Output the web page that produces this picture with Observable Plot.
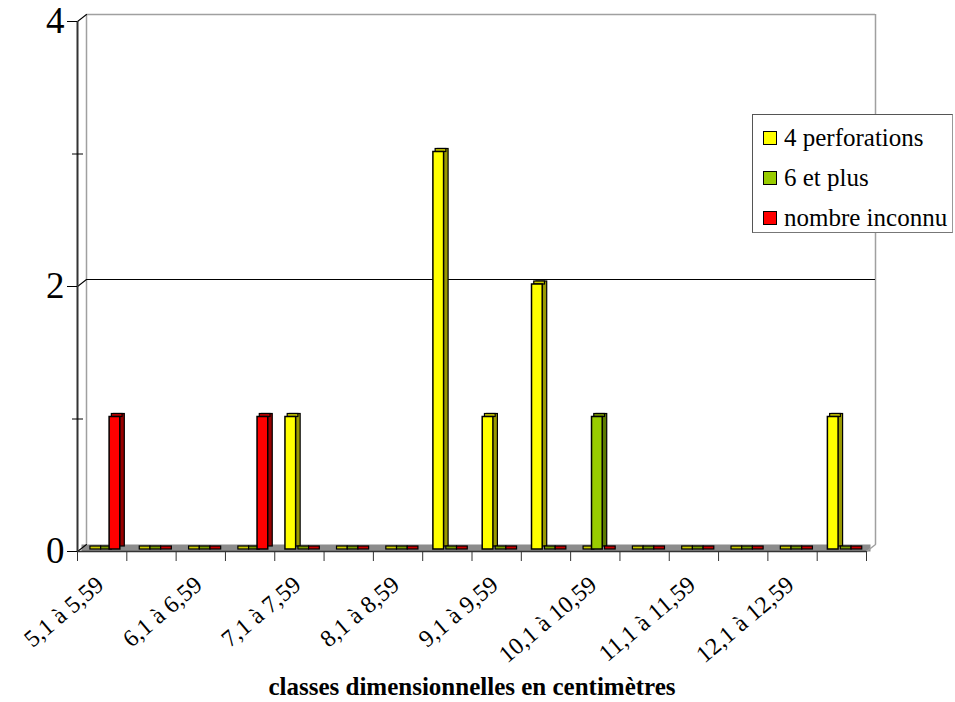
<!DOCTYPE html>
<html><head><meta charset="utf-8">
<script src="https://cdn.jsdelivr.net/npm/d3@7"></script>
<script src="https://cdn.jsdelivr.net/npm/@observablehq/plot@0.6"></script>
<style>
body{margin:0;background:#fff;font-family:'Liberation Serif','DejaVu Serif',serif;}
#wrap{position:relative;width:955px;height:702px;}
#legend{position:absolute;left:752px;top:114px;width:201px;height:119px;border:1px solid #555;border-right-color:#999;border-bottom-color:#777;background:#fff;box-sizing:border-box;font-family:'Liberation Serif','DejaVu Serif',serif;}
.row{position:absolute;left:10px;height:30px;display:flex;align-items:center;font-size:25px;color:#000;white-space:nowrap;}
.sw{width:12px;height:12px;border:1.5px solid #000;margin-right:7px;}
svg text{font-family:'Liberation Serif','DejaVu Serif',serif !important;}
</style></head><body>
<div id="wrap"><div id="chart"></div><div id="legend"></div></div>
<script>
const categories = ["5,1 à 5,59","5,6 à 6,09","6,1 à 6,59","6,6 à 7,09","7,1 à 7,59","7,6 à 8,09","8,1 à 8,59","8,6 à 9,09","9,1 à 9,59","9,6 à 10,09","10,1 à 10,59","10,6 à 11,09","11,1 à 11,59","11,6 à 12,09","12,1 à 12,59","12,6 à 13,09"];
const series = ["4 perforations","6 et plus","nombre inconnu"];
const perforations4 = [0,0,0,0,1,0,0,3,1,2,0,0,0,0,0,1];
const sixEtPlus     = [0,0,0,0,0,0,0,0,0,0,1,0,0,0,0,0];
const nombreInconnu = [1,0,0,1,0,0,0,0,0,0,0,0,0,0,0,0];
const yTicksLabeled = [0,2,4];
const yTicksMinor = [1,3];
const xTitle = "classes dimensionnelles en centimètres";

const valuesBySeries = [perforations4, sixEtPlus, nombreInconnu];
const frontColors = ["#ffff00","#99cc00","#ff0000"];
const sideColors  = ["#999900","#5c7a00","#990000"];
const topColors   = ["#c8c800","#7a9900","#c80000"];

const rows = series.flatMap((s, si) => categories.map((c, ci) => ({category: c, index: ci, series: s, si, value: valuesBySeries[si][ci]})));

const BAR0 = 0.217, BARW = 0.217;
const bx1 = d => d.index + BAR0 + d.si * BARW;
const bx2 = d => d.index + BAR0 + (d.si + 1) * BARW;
const line = {draw(context, l) { context.moveTo(0, 0); context.lineTo(0, -l); }};
const DX = 9, DY = -7;
const FONT = "'Liberation Serif','DejaVu Serif',serif";

const marks = [];
marks.push(Plot.ruleY([0], {dx: DX/2, dy: DY/2, strokeWidth: 7, stroke: "#8c8c8c"}));
marks.push(Plot.ruleX([0, categories.length], {dx: DX, dy: DY, stroke: "#a0a0a0", strokeWidth: 1.5}));
marks.push(Plot.ruleY([4], {dx: DX, dy: DY, stroke: "#a0a0a0", strokeWidth: 1.5}));
marks.push(Plot.ruleY([2], {dx: DX, dy: DY, stroke: "#000", strokeWidth: 1}));
marks.push(Plot.vector(yTicksLabeled, {x: 0, y: d => d, length: Math.hypot(DX, DY), rotate: Math.atan2(DX, -DY) * 180 / Math.PI, anchor: "start", shape: line, stroke: "#000", strokeWidth: 1}));
marks.push(Plot.vector([categories.length], {x: d => d, y: 0, length: Math.hypot(DX, DY), rotate: Math.atan2(DX, -DY) * 180 / Math.PI, anchor: "start", shape: line, stroke: "#a0a0a0", strokeWidth: 1.5}));
series.forEach((s, si) => {
  marks.push(Plot.rectY(rows.filter(d => d.si === si), {x1: bx1, x2: bx2, y1: 0, y2: "value", dx: 4.5, dy: -5, fill: sideColors[si], stroke: "#000", strokeWidth: 1.2}));
});
series.forEach((s, si) => {
  marks.push(Plot.rect(rows.filter(d => d.si === si), {x1: bx1, x2: bx2, y1: "value", y2: "value", insetTop: -3, dx: 2.25, dy: -2, fill: topColors[si], stroke: "#000", strokeWidth: 1.2}));
});
series.forEach((s, si) => {
  marks.push(Plot.rectY(rows.filter(d => d.si === si), {x1: bx1, x2: bx2, y1: 0, y2: "value", dy: -2, fill: frontColors[si], stroke: "#000", strokeWidth: 1.5}));
});
marks.push(Plot.ruleX([0], {stroke: "#333", strokeWidth: 2}));
marks.push(Plot.ruleY([0], {stroke: "#333", strokeWidth: 1.5}));
marks.push(Plot.axisY({ticks: yTicksLabeled, tickFormat: d => String(d), tickSize: 10, tickPadding: 3, fontSize: 37, label: null, stroke: "#000", fill: "#000"}));
marks.push(Plot.axisY({ticks: yTicksMinor, tickSize: 11, dx: 6, fill: "none", label: null, stroke: "#000"}));
marks.push(Plot.axisX({ticks: d3.range(0, categories.length + 1), tickSize: 10, fill: "none", label: null, stroke: "#333"}));
marks.push(Plot.axisX({ticks: categories.map((c, i) => i).filter(i => i % 2 === 0).map(i => i + 0.5), tickFormat: d => categories[Math.floor(d)], tickSize: 0, tickPadding: 30, dx: -2, tickRotate: -40, textAnchor: "end", fontSize: 24, label: null, fill: "#000"}));
marks.push(Plot.text([xTitle], {frameAnchor: "bottom", dy: 143, lineAnchor: "bottom", fontSize: 25, fontWeight: "bold", fill: "#000"}));

const chart = Plot.plot({
  width: 955, height: 702,
  marginLeft: 77, marginRight: 89, marginTop: 21, marginBottom: 151,
  x: {domain: [0, categories.length]},
  y: {domain: [0, 4]},
  style: {fontFamily: FONT, background: "#fff", color: "#000", overflow: "visible"},
  marks
});
document.getElementById("chart").appendChild(chart);

const legend = document.getElementById("legend");
series.forEach((s, si) => {
  const row = document.createElement("div");
  row.className = "row";
  row.style.top = (8 + si * 40) + "px";
  const sw = document.createElement("div");
  sw.className = "sw";
  sw.style.background = frontColors[si];
  row.appendChild(sw);
  row.appendChild(document.createTextNode(s));
  legend.appendChild(row);
});
</script>
</body></html>
